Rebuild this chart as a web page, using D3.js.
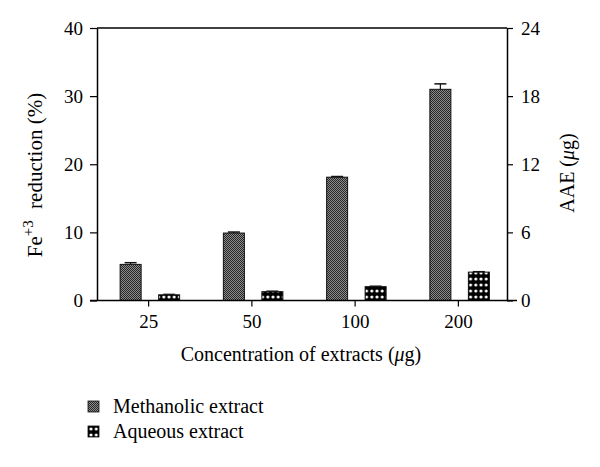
<!DOCTYPE html>
<html>
<head>
<meta charset="utf-8">
<script src="https://cdn.jsdelivr.net/npm/d3@7"></script>
<style>
  html, body { margin: 0; padding: 0; background: #fff; }
  svg text { font-family: "Liberation Serif", "DejaVu Serif", serif; fill: #000; }
</style>
</head>
<body>
<svg id="chart" width="600" height="467"></svg>
<script>
// ---- data ----
const categories = ["25", "50", "100", "200"];
const methanolic = [5.3, 9.9, 18.1, 31.0];      // Fe+3 reduction (%) – left axis
const methanolicErr = [0.25, 0.15, 0.1, 0.8];
const aqueous = [0.5, 0.78, 1.22, 2.5];         // AAE (µg) – right axis
const aqueousErr = [0.05, 0.05, 0.05, 0.05];
const leftTicks = [0, 10, 20, 30, 40];
const rightTicks = [0, 6, 12, 18, 24];
const seriesNames = ["Methanolic extract", "Aqueous extract"];

const svg = d3.select("#chart");
const defs = svg.append("defs");

// Methanolic pattern: fine dark checker
const p1 = defs.append("pattern").attr("id", "patM").attr("patternUnits", "userSpaceOnUse")
  .attr("width", 2).attr("height", 2);
p1.append("rect").attr("width", 2).attr("height", 2).attr("fill", "#8c8c8c");
p1.append("rect").attr("x", 0).attr("y", 0).attr("width", 1).attr("height", 1).attr("fill", "#262626");
p1.append("rect").attr("x", 1).attr("y", 1).attr("width", 1).attr("height", 1).attr("fill", "#262626");

// Aqueous pattern: white dots on black
const p2 = defs.append("pattern").attr("id", "patA").attr("patternUnits", "userSpaceOnUse")
  .attr("width", 5.2).attr("height", 6);
p2.append("rect").attr("width", 5.2).attr("height", 6).attr("fill", "#000");
p2.append("circle").attr("cx", 2.6).attr("cy", 3).attr("r", 1.5).attr("fill", "#fff");

const pLeft = 97, pRight = 507, pTop = 28, pBottom = 300.5;

const x = d3.scaleBand().domain(categories).range([pLeft, 510]).paddingInner(0).paddingOuter(0);
const yL = d3.scaleLinear().domain([0, 40]).range([pBottom, pTop]);
const yR = d3.scaleLinear().domain([0, 24]).range([pBottom, pTop]);

const barW = 21;
const cx = c => x(c) + x.bandwidth() / 2;

// Bars – methanolic
const gM = svg.append("g");
categories.forEach((c, i) => {
  const x0 = cx(c) - 28.5;
  gM.append("rect").attr("x", x0).attr("y", yL(methanolic[i]))
    .attr("width", barW).attr("height", pBottom - yL(methanolic[i]))
    .attr("fill", "url(#patM)").attr("stroke", "#111").attr("stroke-width", 1);
  const xc = x0 + barW / 2;
  const ye = yL(methanolic[i] + methanolicErr[i]);
  gM.append("line").attr("x1", xc).attr("x2", xc).attr("y1", yL(methanolic[i])).attr("y2", ye)
    .attr("stroke", "#111").attr("stroke-width", 1.2);
  gM.append("line").attr("x1", xc - 6).attr("x2", xc + 6).attr("y1", ye).attr("y2", ye)
    .attr("stroke", "#111").attr("stroke-width", 1.5);
});

// Bars – aqueous
const gA = svg.append("g");
categories.forEach((c, i) => {
  const x0 = cx(c) + 10;
  gA.append("rect").attr("x", x0).attr("y", yR(aqueous[i]))
    .attr("width", barW).attr("height", pBottom - yR(aqueous[i]))
    .attr("fill", "url(#patA)").attr("stroke", "#111").attr("stroke-width", 1);
  const xc = x0 + barW / 2;
  const ye = yR(aqueous[i] + aqueousErr[i]);
  gA.append("line").attr("x1", xc - 6).attr("x2", xc + 6).attr("y1", ye).attr("y2", ye)
    .attr("stroke", "#111").attr("stroke-width", 1.2);
});

// Frame top line
svg.append("line").attr("x1", pLeft).attr("x2", pRight).attr("y1", pTop).attr("y2", pTop)
  .attr("stroke", "#000").attr("stroke-width", 1.5);

// Left axis
const axL = svg.append("g").attr("transform", `translate(${pLeft},0)`)
  .call(d3.axisLeft(yL).tickValues(leftTicks).tickSize(7).tickPadding(7).tickSizeOuter(0));
// Right axis
const axR = svg.append("g").attr("transform", `translate(${pRight},0)`)
  .call(d3.axisRight(yR).tickValues(rightTicks).tickSize(6).tickPadding(8).tickSizeOuter(0));
// Bottom axis
const axB = svg.append("g").attr("transform", `translate(0,${pBottom})`)
  .call(d3.axisBottom(x).tickSize(6).tickPadding(8).tickSizeOuter(0));
axB.select(".domain").attr("d", `M90,0H517`);

[axL, axR, axB].forEach(a => {
  a.selectAll(".domain").attr("stroke", "#000").attr("stroke-width", 1.5);
  a.selectAll(".tick line").attr("stroke", "#000").attr("stroke-width", 1.2);
  a.selectAll("text").style("font-family", '"Liberation Serif", serif').style("font-size", "19px").attr("fill", "#000");
});

// Axis titles
svg.append("text").attr("x", 301).attr("y", 361).attr("text-anchor", "middle")
  .style("font-size", "20px")
  .html('Concentration of extracts (<tspan font-style="italic">μ</tspan>g)');

const yt = svg.append("text").attr("transform", "translate(42,175) rotate(-90)")
  .attr("text-anchor", "middle").style("font-size", "21px");
yt.append("tspan").text("Fe");
yt.append("tspan").attr("dy", -9).style("font-size", "15px").text("+3");
yt.append("tspan").attr("dy", 9).attr("dx", 6).text(" reduction (%)");

svg.append("text").attr("transform", "translate(574,173) rotate(-90)")
  .attr("text-anchor", "middle").style("font-size", "20px")
  .html('AAE (<tspan font-style="italic">μ</tspan>g)');

// Legend
const leg = svg.append("g");
const fills = ["url(#patM)", "url(#patA)"];
seriesNames.forEach((n, i) => {
  const yy = 401 + i * 25;
  leg.append("rect").attr("x", 88).attr("y", yy).attr("width", 11).attr("height", 11)
    .attr("fill", fills[i]).attr("stroke", "#111").attr("stroke-width", 0.8);
  leg.append("text").attr("x", 113).attr("y", yy + 12).style("font-size", "20px").text(n);
});
</script>
</body>
</html>
